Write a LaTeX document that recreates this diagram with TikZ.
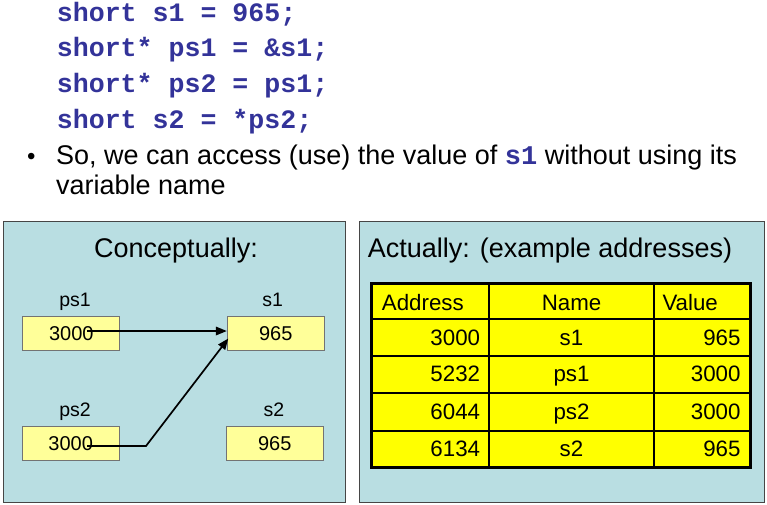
\documentclass[tikz,border=0pt]{standalone}
\usepackage{fontspec}
\setmainfont{Liberation Sans}
\newfontfamily\codefont{Liberation Mono}
\usetikzlibrary{arrows.meta}
\definecolor{codeblue}{RGB}{51,51,153}
\definecolor{panelbg}{RGB}{185,222,226}
\definecolor{boxyellow}{RGB}{255,255,153}
\definecolor{tblyellow}{RGB}{255,255,0}
\definecolor{panelline}{RGB}{70,70,70}
\begin{document}
\begin{tikzpicture}[x=1pt,y=-1pt,
  codeline/.style={anchor=base west,inner sep=0,text=codeblue,font=\codefont\bfseries\fontsize{26.6}{30}\selectfont},
  bodytext/.style={anchor=base west,inner sep=0,font=\fontsize{27}{32}\selectfont},
  panel/.style={draw=panelline,line width=0.9pt,fill=panelbg,anchor=north west,inner sep=0},
  title/.style={inner sep=0,font=\fontsize{27}{32}\selectfont},
  varbox/.style={draw=black!55,line width=0.9pt,fill=boxyellow,minimum width=97pt,minimum height=34pt,inner sep=0,font=\fontsize{20}{24}\selectfont},
  varlabel/.style={anchor=base,inner sep=0,font=\fontsize{19.5}{24}\selectfont},
  conn/.style={line width=1.7pt,-{Triangle[length=11pt,width=8.5pt]}},
  cell/.style={inner sep=0,font=\fontsize{22.3}{26}\selectfont},
  grid/.style={line width=1.8pt,draw=black}
]
\useasboundingbox (0,0) rectangle (767,504);

% code lines
\node[codeline] (c1) at (56.7,21) {short s1 = 965;};
\node[codeline] (c2) at (56.7,56.8) {short* ps1 = \&s1;};
\node[codeline] (c3) at (56.7,92.6) {short* ps2 = ps1;};
\node[codeline] (c4) at (56.7,128.4) {short s2 = *ps2;};

% bullet text
\node[anchor=base west,inner sep=0,font=\fontsize{24}{28}\selectfont] (bul) at (27,164.3) {•};
\node[bodytext] (b1) at (56,164.3) {So, we can access (use) the value of {\codefont\bfseries\color{codeblue}s1} without using its};
\node[bodytext] (b2) at (56,194.3) {variable name};

% panels
\node[panel,minimum width=341.7pt,minimum height=281pt] (lp) at (3.3,220.7) {};
\node[panel,minimum width=404.7pt,minimum height=281pt] (rp) at (359,220.7) {};

\node[title,anchor=base] (lt) at (176,257.7) {Conceptually:};
\node[title,anchor=base west] (rt) at (367.7,257.7) {Actually: (example addresses)};

% conceptual boxes
\node[varbox] (ps1) at (71.3,333.7) {3000};
\node[varbox] (s1) at (275.8,333.7) {965};
\node[varbox] (ps2) at (70.7,443.7) {3000};
\node[varbox] (s2) at (274.7,443.7) {965};

\node[varlabel] (lps1) at (75,306.7) {ps1};
\node[varlabel] (ls1) at (272.7,306.7) {s1};
\node[varlabel] (lps2) at (75,416.7) {ps2};
\node[varlabel] (ls2) at (274,416.7) {s2};

\coordinate (a1s) at (87,331);
\coordinate (a2s) at (87,446);
\coordinate (a2k) at (146,446);
\coordinate (a2e) at (228.3,338.5);
\draw[conn] (a1s) -- (s1.west |- a1s);
\draw[conn] (a2s) -- (a2k) -- (a2e);

% table
\fill[tblyellow] (371.7,283.3) rectangle (750.7,467.3);
\draw[grid] (371.7,319) -- (750.7,319);
\draw[grid] (371.7,355.7) -- (750.7,355.7);
\draw[grid] (371.7,393.3) -- (750.7,393.3);
\draw[grid] (371.7,431) -- (750.7,431);
\draw[grid] (489.3,283.3) -- (489.3,467.3);
\draw[grid] (653.7,283.3) -- (653.7,467.3);
\draw[line width=2.8pt] (371.7,283.3) rectangle (750.7,467.3);

\node[cell,anchor=base west] (h1) at (381.7,310) {Address};
\node[cell,anchor=base] (h2) at (571.5,310) {Name};
\node[cell,anchor=base west] (h3) at (662.3,310) {Value};

\node[cell,anchor=base east] (r1a) at (480.3,345) {3000};
\node[cell,anchor=base] (r1b) at (571.5,345) {s1};
\node[cell,anchor=base east] (r1c) at (740.7,345) {965};

\node[cell,anchor=base east] (r2a) at (480.3,381.7) {5232};
\node[cell,anchor=base] (r2b) at (571.5,381.7) {ps1};
\node[cell,anchor=base east] (r2c) at (740.7,381.7) {3000};

\node[cell,anchor=base east] (r3a) at (480.3,419.3) {6044};
\node[cell,anchor=base] (r3b) at (571.5,419.3) {ps2};
\node[cell,anchor=base east] (r3c) at (740.7,419.3) {3000};

\node[cell,anchor=base east] (r4a) at (480.3,456.7) {6134};
\node[cell,anchor=base] (r4b) at (571.5,456.7) {s2};
\node[cell,anchor=base east] (r4c) at (740.7,456.7) {965};
\end{tikzpicture}
\end{document}
